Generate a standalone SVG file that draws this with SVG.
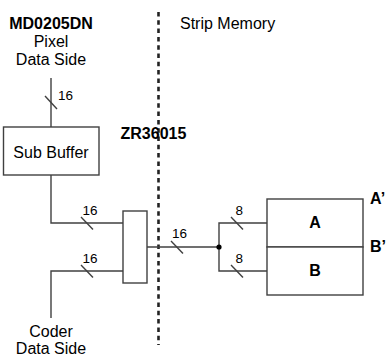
<svg xmlns="http://www.w3.org/2000/svg" width="388" height="356" viewBox="0 0 388 356">
<style>
text{font-family:"Liberation Sans",Arial,sans-serif;fill:#000}
.t{font-size:16px}
.b{font-size:16px;font-weight:bold}
.l{font-size:13.5px}
.w{fill:none;stroke:#404040;stroke-width:1.4}
.box{fill:#fff;stroke:#404040;stroke-width:1.4}
</style>
<rect width="388" height="356" fill="#fff"/>
<g id="divider">
<line x1="158.5" y1="12" x2="158.5" y2="345" stroke="#222" stroke-width="2.6" stroke-dasharray="4.5,3.8"/>
</g>
<g id="labels">
<text class="b" x="51" y="28.5" text-anchor="middle">MD0205DN</text>
<text class="t" x="51" y="46.5" text-anchor="middle">Pixel</text>
<text class="t" x="51" y="64.5" text-anchor="middle">Data Side</text>
<text class="t" x="180" y="28.5">Strip Memory</text>
<text class="b" x="120.5" y="138.5">ZR36015</text>
<text class="t" x="51" y="336.5" text-anchor="middle">Coder</text>
<text class="t" x="51" y="353.5" text-anchor="middle">Data Side</text>
<text class="b" x="370" y="203.5">A’</text>
<text class="b" x="370" y="252">B’</text>
</g>
<g id="connectors">
<line class="w" x1="51" y1="78" x2="51" y2="127"/>
<line class="w" x1="45" y1="96" x2="57" y2="109"/>
<text class="l" x="58" y="100">16</text>
<polyline class="w" points="51,175 51,223 123,223"/>
<line class="w" x1="81" y1="217" x2="93" y2="229.5"/>
<text class="l" x="82.5" y="214.5">16</text>
<polyline class="w" points="51,318 51,271 123,271"/>
<line class="w" x1="81" y1="265" x2="93" y2="277.5"/>
<text class="l" x="82.5" y="262.5">16</text>
<line class="w" x1="147" y1="247" x2="219" y2="247"/>
<line class="w" x1="171" y1="241" x2="183" y2="253.5"/>
<text class="l" x="172" y="238">16</text>
<polyline class="w" points="267,223 219,223 219,271 267,271"/>
<circle cx="219" cy="247" r="2.6" fill="#000"/>
<line class="w" x1="231" y1="217" x2="243" y2="229.5"/>
<text class="l" x="235.5" y="214.5">8</text>
<line class="w" x1="231" y1="265" x2="243" y2="277.5"/>
<text class="l" x="235.5" y="262.5">8</text>
</g>
<g id="subbuffer">
<rect class="box" x="3.5" y="127" width="95.5" height="48"/>
<text class="t" x="51" y="157.5" text-anchor="middle">Sub Buffer</text>
</g>
<g id="mux">
<rect class="box" x="123" y="211" width="24" height="72"/>
</g>
<g id="memA">
<rect class="box" x="267" y="199" width="96" height="48"/>
<text class="b" x="315" y="227.5" text-anchor="middle">A</text>
</g>
<g id="memB">
<rect class="box" x="267" y="247" width="96" height="48"/>
<text class="b" x="315" y="275.5" text-anchor="middle">B</text>
</g>
</svg>
